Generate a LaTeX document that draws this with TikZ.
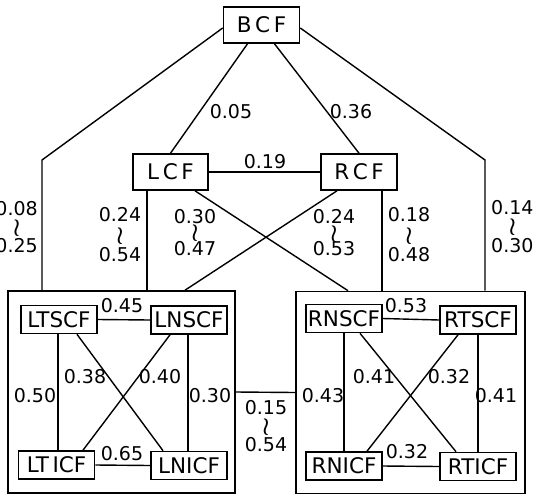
\documentclass[tikz,border=0pt]{standalone}
\usepackage{fontspec}
\usepackage{graphicx}
\usepackage{amsmath,amsbsy}
\setmainfont{DejaVu Sans}
\usetikzlibrary{calc}
\newcommand{\rngsym}{\raisebox{-0.5pt}[0pt][0pt]{\scalebox{1.3}[1.45]{$\boldsymbol{\wr}$}}}
\begin{document}
\begin{tikzpicture}[x=1pt,y=-1pt,
  box/.style={draw, line width=1.6pt, inner sep=0pt, font=\fontsize{21.5}{24}\selectfont},
  topbox/.style={box, minimum width=76pt, minimum height=36pt},
  subbox/.style={box, minimum width=76pt, minimum height=28pt},
  bigbox/.style={draw, line width=1.6pt, inner sep=0pt},
  lnk/.style={line width=1.4pt},
  lab/.style={inner sep=0pt, font=\fontsize{19}{19}\selectfont},
  rng/.style={inner sep=0pt, align=center, font=\fontsize{19}{#1}\selectfont}
]
\useasboundingbox (0,0) rectangle (546,496);

% top nodes
\node[topbox] (BCF) at (261.5,25) {B\,C\,F};
\node[topbox, minimum width=75pt] (LCF) at (170.5,172) {L\,C\,F};
\node[topbox] (RCF) at (359,172) {R\,C\,F};

% big boxes
\node[bigbox, minimum width=227pt, minimum height=202pt] (LB) at (121.5,392) {};
\node[bigbox, minimum width=229pt, minimum height=202pt] (RB) at (410.5,392.5) {};

% inner nodes
\node[subbox] (LTSCF) at (59,319.5) {LTSCF};
\node[subbox] (LNSCF) at (189,320) {LNSCF};
\node[subbox] (LTICF) at (56.5,465) {LT\,ICF};
\node[subbox] (LNICF) at (189,465.5) {LNICF};
\node[subbox] (RNSCF) at (344,318.5) {RNSCF};
\node[subbox] (RTSCF) at (478,320) {RTSCF};
\node[subbox] (RNICF) at (344,466) {RNICF};
\node[subbox] (RTICF) at (478,466.5) {RTICF};

% corner coordinates
\coordinate (LK) at (42,160);
\coordinate (RK) at (485,160);

% top connectors
\draw[lnk] ([yshift=-3pt]BCF.west) -- (LK) -- (LK |- LB.north);
\draw[lnk] ([yshift=-3pt]BCF.east) -- (RK) -- (RK |- RB.north);
\draw[lnk] ([xshift=-14pt]BCF.south) -- (LCF.north);
\draw[lnk] ([xshift=13pt]BCF.south) -- (RCF.north);
\draw[lnk] (LCF.east) -- (RCF.west);
\draw[lnk] ([xshift=-23.5pt]LCF.south) coordinate (lv) -- (lv |- LB.north);
\draw[lnk] ([xshift=24.5pt]LCF.south) -- ([xshift=-62.5pt]RB.north);
\draw[lnk] ([xshift=-22pt]RCF.south) -- ([xshift=63.5pt]LB.north);
\draw[lnk] ([xshift=23pt]RCF.south) coordinate (rv) -- (rv |- RB.north);
\draw[lnk] (LB.east) -- (RB.west);

% left box connectors
\draw[lnk] (LTSCF.east) -- (LNSCF.west);
\draw[lnk] (LTICF.east) -- (LNICF.west);
\draw[lnk] ([xshift=-1pt]LTSCF.south) coordinate (a1) -- (a1 |- LTICF.north);
\draw[lnk] ([xshift=-1pt]LNSCF.south) coordinate (a2) -- (a2 |- LNICF.north);
\draw[lnk] ([xshift=18pt]LTSCF.south) -- ([xshift=-26pt]LNICF.north);
\draw[lnk] ([xshift=-19pt]LNSCF.south) -- ([xshift=26.5pt]LTICF.north);

% right box connectors
\draw[lnk] (RNSCF.east) -- (RTSCF.west);
\draw[lnk] (RNICF.east) -- (RTICF.west);
\draw[lnk] (RNSCF.south) -- (RNICF.north);
\draw[lnk] (RTSCF.south) -- (RTICF.north);
\draw[lnk] ([xshift=16pt]RNSCF.south) -- ([xshift=-22pt]RTICF.north);
\draw[lnk] ([xshift=-20pt]RTSCF.south) -- ([xshift=23pt]RNICF.north);

% single labels
\node[lab] (l05) at (231,112) {0.05};
\node[lab] (l36) at (351,112) {0.36};
\node[lab] (l19) at (265,162) {0.19};
\node[lab] (l45) at (122,306) {0.45};
\node[lab] (l65) at (122,454) {0.65};
\node[lab] (l53) at (406,306) {0.53};
\node[lab] (l32b) at (407,452) {0.32};
\node[lab] (l50) at (35,396) {0.50};
\node[lab] (l38) at (85,377) {0.38};
\node[lab] (l40) at (160,377) {0.40};
\node[lab] (l30) at (210,396) {0.30};
\node[lab] (l43) at (323,396) {0.43};
\node[lab] (l41a) at (374,377) {0.41};
\node[lab] (l32) at (449,377) {0.32};
\node[lab] (l41b) at (496,396) {0.41};

% range labels
\node[rng=18.5, anchor=east] (rA) at (38,227) {0.08\\\rngsym\\0.25};
\node[rng=20] (rB) at (120,235) {0.24\\\rngsym\\0.54};
\node[rng=16] (rC) at (195,232.5) {0.30\\\rngsym\\0.47};
\node[rng=16] (rD) at (334,233) {0.24\\\rngsym\\0.53};
\node[rng=20] (rE) at (409,235) {0.18\\\rngsym\\0.48};
\node[rng=19, anchor=west] (rF) at (491,226.5) {0.14\\\rngsym\\0.30};
\node[rng=18.5] (rG) at (266,426.5) {0.15\\\rngsym\\0.54};
\end{tikzpicture}
\end{document}
